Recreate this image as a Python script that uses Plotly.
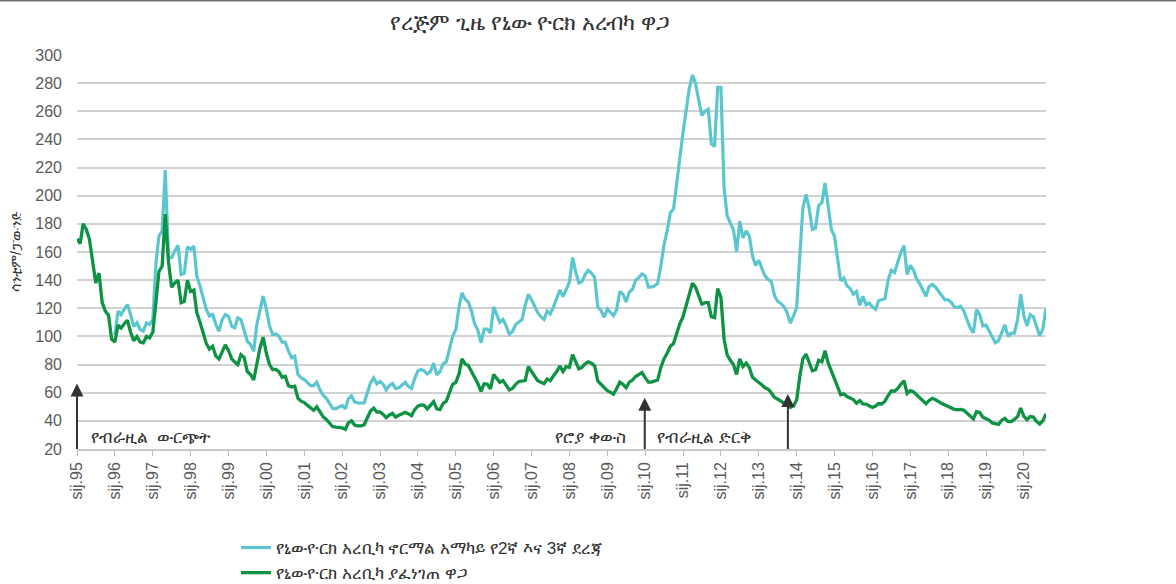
import pandas as pd
import plotly.graph_objects as go

# Monthly prices, US cents per pound, Jan 1995 - Aug 2020
months = pd.date_range("1995-01-01", "2020-08-01", freq="MS")

# New York Arabica "C" price
arabica_c = [
    169.5, 166, 180, 176, 169, 153, 138, 145, 124, 118, 115, 98,          # 1995
    96, 108, 106, 109, 111.5, 103, 97, 100, 96, 95.5, 100, 99,            # 1996
    103, 125, 146, 150, 187, 153, 135, 138, 140, 124, 125, 140,           # 1997
    132, 133, 117, 110, 103, 95, 91, 93, 86, 84, 89, 94,                  # 1998
    90, 84, 82, 80, 87, 85, 75, 73, 69, 80, 92, 99.5,                     # 1999
    88, 80, 76.5, 76.5, 75, 71, 71.7, 65, 64, 64.6, 56, 54,               # 2000
    53, 51, 49, 47.5, 50, 46.5, 43, 41, 38.5, 36, 35.5, 35.5,             # 2001
    35, 34, 38.5, 40, 37, 36.5, 36.5, 37.2, 42, 47, 49, 46.2,             # 2002
    46.4, 44.6, 42.2, 44.2, 45.3, 42.7, 44, 45, 46, 45, 43.7, 48,         # 2003
    50.5, 51.3, 51, 48.5, 51, 53.7, 48.5, 48, 52.5, 54, 60, 66,           # 2004
    67.4, 73.4, 84, 80.5, 79.3, 75, 70, 66.5, 61, 66.3, 66, 62.7,         # 2005
    73, 70, 67.4, 68.6, 65.5, 62, 63, 66, 68, 68.4, 68.6, 78.5,           # 2006
    75, 71, 68.6, 67.5, 66.5, 69.8, 68.6, 72, 75, 79, 75, 78.5,           # 2007
    78, 87, 81.5, 77, 78, 80.5, 82, 81, 79, 68.4, 66, 63.5,               # 2008
    61.5, 60.2, 58.9, 63, 67.5, 66, 63.6, 67.5, 69, 71.5, 73, 74.3,       # 2009
    70.7, 67.5, 67.5, 68, 69, 78, 84, 88, 93, 95, 102, 109,               # 2010
    114, 122, 131, 137.8, 135, 129, 123, 124, 124, 114, 113.4, 134,       # 2011
    128, 98, 87, 83, 80, 73, 84, 78.6, 81, 78, 71, 69,                    # 2012
    67.5, 65.5, 63.5, 62.5, 60, 56.6, 55.5, 54, 53, 51.5, 49.5, 50.5,     # 2013
    55, 72, 84, 87.4, 82, 75.6, 76.3, 83, 82, 89.8, 81, 75.5,             # 2014
    71, 64, 58.5, 59.2, 57.3, 56.5, 55.2, 52.5, 54.5, 52, 51.9, 50.7,     # 2015
    49.5, 50.5, 52.3, 52, 54, 58, 61.3, 61, 63, 66, 68.5, 59.5,           # 2016
    61.4, 60.5, 58.5, 57, 54.5, 52.2, 54.5, 56, 55, 53.5, 52.3, 51.3,     # 2017
    50.2, 48.8, 48.2, 47.9, 48.2, 47.5, 45.6, 43.4, 41.4, 46.5, 46, 42.6, # 2018
    41.8, 40.5, 38.5, 37.7, 37.5, 40.5, 41.8, 39.5, 39.5, 41, 43, 49,     # 2019
    43.2, 40.8, 43.1, 42.7, 39.6, 37.8, 40, 45,                           # 2020
]

# Retail average for grades 2 and 3 (series starts in 1996)
retail_avg = [None] * 12 + [                                                # 1995
    101, 118, 115.6, 119, 122.7, 115.6, 107, 109.7, 105, 103.7, 109.7, 108.5,   # 1996
    112, 152.4, 171.4, 175, 218.3, 157, 156, 160.7, 164.7, 144, 145, 163.8,     # 1997
    161.9, 164.2, 143, 135.8, 127.5, 119.2, 114.5, 115.6, 108.5, 103.7, 112, 115.6,  # 1998
    114.5, 107.3, 106.1, 113.2, 112, 105, 96.6, 94.3, 89.5, 108.5, 119.2, 128.7,     # 1999
    119.2, 107.3, 101.4, 101.8, 100.2, 95.9, 95.9, 89.5, 84.8, 86, 72.9, 70.6,       # 2000
    69.4, 67, 65, 65, 67.5, 62, 58.2, 56, 52, 49, 48.6, 49.5,                   # 2001
    51, 48.5, 55.6, 57.8, 53.5, 52.8, 52.5, 52.7, 60, 67, 70.5, 66.3,           # 2002
    68, 66, 62, 65, 66.5, 63, 63.5, 65.5, 67.4, 64.5, 63, 70,                   # 2003
    75.5, 76.5, 75.5, 73.4, 75, 81, 72.7, 75, 80.5, 82, 91, 100,                # 2004
    105, 121, 131, 126.5, 124.5, 118, 109, 104.5, 95.5, 105.2, 105.2, 102.5,    # 2005
    121, 115.5, 110, 112, 107.5, 101.5, 103.5, 108.5, 110.5, 112, 122, 130,     # 2006
    126, 121.5, 117, 114, 112, 118, 116, 121, 126.7, 133, 128.3, 134,           # 2007
    138.5, 156, 146, 138, 139, 144, 147, 145, 142, 121, 118.5, 113.5,           # 2008
    119.5, 117, 114.8, 118.9, 132, 130, 124.5, 131.5, 133.5, 140, 141.8, 144.5, # 2009
    143, 135, 135, 136, 137.5, 150, 165, 175, 188, 190.5, 209.4, 228,           # 2010
    245, 261, 275.7, 285.7, 280, 268, 257, 260, 261.5, 237, 235, 277,           # 2011
    277, 205, 186, 180.5, 176, 160.1, 182, 170, 175, 171.5, 157, 150.5,         # 2012
    154, 148, 143, 140.5, 139, 129, 125, 123.5, 121, 117, 109.4, 114.5,         # 2013
    120.5, 158, 191, 201, 191, 176, 177, 193, 195, 209, 192, 176,               # 2014
    171, 152, 139.5, 141.5, 136, 134, 130, 132, 122, 128.5, 122.5, 123.7,       # 2015
    121, 119.2, 125.5, 126, 127, 140, 147, 145.5, 153.5, 159.5, 164.5, 144,     # 2016
    150.5, 147, 141, 137.5, 133, 128.5, 135.5, 137, 135, 132, 129.5, 126,       # 2017
    126, 124, 121, 120.5, 121.5, 118, 112, 106, 102.5, 119, 115.5, 107.5,       # 2018
    108, 104, 99.5, 95.5, 97, 103.5, 108.2, 100, 102.4, 102.4, 112, 130,        # 2019
    114.5, 107.5, 115.5, 114, 108, 100.5, 105, 120,                             # 2020
]

tick_dates = pd.date_range("1995-01-01", "2020-01-01", freq="YS")
tick_labels = [f"sij.{d.year % 100:02d}" for d in tick_dates]

title_text = "የረጅም ጊዜ የኒው ዮርክ አረብካ ዋጋ"
y_title = "ሳንቲም/ፓውንድ"
name_retail = "የኒውዮርክ አረቢካ ኖርማል አማካይ የ2ኛ እና 3ኛ ደረጃ"
name_c = "የኒውዮርክ አረቢካ ያፈነገጠ ዋጋ"

# event markers: (arrow date, arrow tip value)
events = [("1995-01-01", 66.5), ("2009-12-28", 56.5), ("2013-10-08", 59.0)]
event_labels = [
    ("የብራዚል  ውርጭት", "1995-05-01", "left"),
    ("የሮያ ቀውስ", "2009-07-20", "right"),
    ("የብራዚል ድርቅ", "2010-04-01", "left"),
]

TEAL = "#5cc6d0"
GREEN = "#0e9243"
TEXT = "#333333"
AXIS = "#5a5a5a"
FONT = "Liberation Sans, Noto Sans, DejaVu Sans, sans-serif"

W, H = 1176, 584
ML, MR, MT, MB = 77, 130, 55, 135
PW, PH = W - ML - MR, H - MT - MB

fig = go.Figure()
fig.add_trace(go.Scatter(
    x=months, y=retail_avg, mode="lines", name=name_retail,
    line=dict(color=TEAL, width=3.2), connectgaps=False,
))
fig.add_trace(go.Scatter(
    x=months, y=arabica_c, mode="lines", name=name_c,
    line=dict(color=GREEN, width=3.3),
))

annotations = []
for d, tip in events:
    annotations.append(dict(
        x=d, y=tip, xref="x", yref="y", ax=d, ay=19.0, axref="x", ayref="y",
        text="", showarrow=True, arrowhead=2, arrowsize=1.3, arrowwidth=2,
        arrowcolor="#333333", standoff=0,
    ))
for txt, d, anchor in event_labels:
    annotations.append(dict(
        x=d, y=28.5, xref="x", yref="y", text=txt, showarrow=False,
        xanchor=anchor, yanchor="middle",
        font=dict(size=17, color=TEXT, family=FONT),
    ))
annotations.append(dict(
    x=-(ML - 16) / PW, y=0.5, xref="paper", yref="paper", text=y_title,
    textangle=-90, showarrow=False, xanchor="center", yanchor="middle",
    font=dict(size=14, color=TEXT, family=FONT),
))

fig.update_layout(
    width=W, height=H,
    margin=dict(l=ML, r=MR, t=MT, b=MB, autoexpand=False),
    paper_bgcolor="white", plot_bgcolor="white",
    font=dict(family=FONT, color=AXIS, size=16),
    title=dict(text=title_text, x=530 / W, xanchor="center", y=1 - 22 / H,
               yanchor="middle", font=dict(size=21.5, color=TEXT, family=FONT)),
    showlegend=True,
    legend=dict(orientation="v", x=(236 - ML) / PW, xanchor="left",
                y=-(530 - (H - MB)) / PH, yanchor="top",
                font=dict(size=17, color=TEXT, family=FONT),
                bgcolor="rgba(0,0,0,0)", tracegroupgap=0, itemwidth=30),
    annotations=annotations,
    shapes=[dict(type="line", xref="paper", yref="paper",
                 x0=-ML / PW, x1=(W - ML) / PW,
                 y0=1 + (MT - 0.8) / PH, y1=1 + (MT - 0.8) / PH,
                 line=dict(color="#6e6e6e", width=1.6))],
)

fig.update_xaxes(
    type="date", range=["1995-01-01", "2020-08-01"],
    tickmode="array", tickvals=tick_dates, ticktext=tick_labels,
    tickangle=-90, ticks="outside", ticklen=5, tickcolor="#bdbdbd",
    showline=True, linecolor="#c8c8c8", linewidth=1.5,
    showgrid=False, zeroline=False,
    tickfont=dict(size=16, color=AXIS, family=FONT),
)
fig.update_yaxes(
    range=[20, 300], dtick=20, tick0=20,
    showgrid=True, gridcolor="#d2d2d2", gridwidth=1.5,
    zeroline=False, showline=False, ticks="",
    ticklabelstandoff=14,
    tickfont=dict(size=16, color=AXIS, family=FONT),
)

fig.write_html("out.html")
